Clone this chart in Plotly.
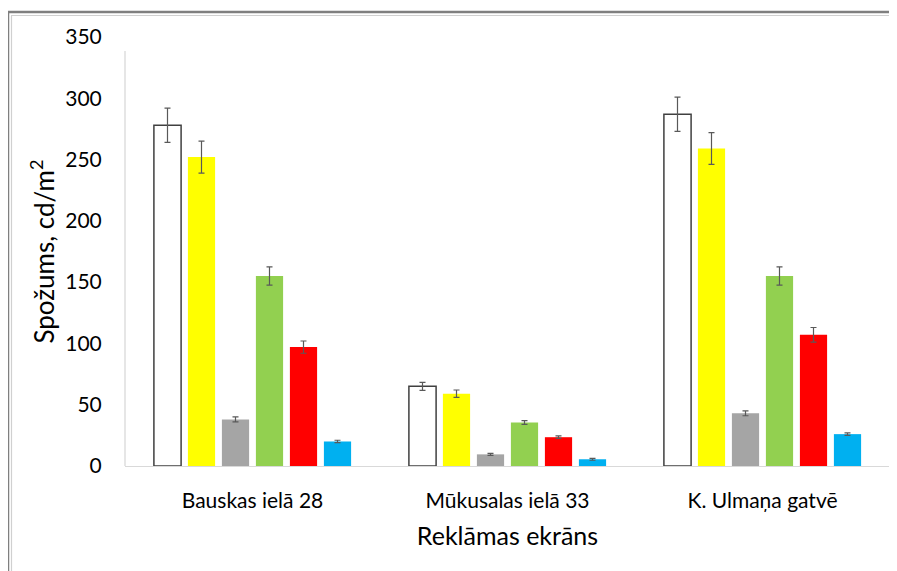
import plotly.graph_objects as go

categories = ["Bauskas ielā 28", "Mūkusalas ielā 33", "K. Ulmaņa gatvē"]
series_names = ["Balts", "Dzeltens", "Pelēks", "Zaļš", "Sarkans", "Zils"]
white_vals = [278, 65, 287]
white_err = [14, 3.3, 14]
yellow_vals = [252, 59, 259]
yellow_err = [13, 3, 13]
gray_vals = [38, 9.5, 43]
gray_err = [2, 0.8, 2]
green_vals = [155, 35.5, 155]
green_err = [7.5, 1.5, 7.5]
red_vals = [97, 23.5, 107]
red_err = [5, 1, 6]
blue_vals = [20, 5.5, 26]
blue_err = [1, 0.8, 1]
y_ticks = [0, 50, 100, 150, 200, 250, 300, 350]

values = [white_vals, yellow_vals, gray_vals, green_vals, red_vals, blue_vals]
errors = [white_err, yellow_err, gray_err, green_err, red_err, blue_err]
fills = ["#FFFFFF", "#FFFF00", "#A5A5A5", "#92D050", "#FF0000", "#00B0F0"]
outlines = ["#404040", None, None, None, None, None]

FONT = "Lato, 'Open Sans', sans-serif"

fig = go.Figure()
for name, v, e, fc, oc in zip(series_names, values, errors, fills, outlines):
    fig.add_trace(go.Bar(
        x=categories, y=v, name=name,
        marker=dict(color=fc,
                    line=dict(color=oc if oc else fc, width=1.5 if oc else 0)),
        error_y=dict(type="data", array=e, visible=True,
                     color="#595959", thickness=1.2, width=3),
    ))

OFF = 8  # page body margin
W, H = 897, 571
# desired page-pixel positions of plot area
PL, PR, PT, PB = 125, 890, 37, 466
L, T = PL - OFF, PT - OFF
R = W - (PR - OFF)
B = H - (PB - OFF)
pw, ph = W - L - R, H - T - B

def px(x):
    return (x - OFF - L) / pw

def py(y):
    return (H - B - (y - OFF)) / ph

shapes = [
    dict(type="line", xref="paper", yref="paper", x0=0, x1=0, y0=0, y1=py(51),
         line=dict(color="#D9D9D9", width=1.3)),
    dict(type="line", xref="paper", yref="paper", x0=px(8), x1=px(910), y0=py(12), y1=py(12),
         line=dict(color="#7F7F7F", width=2.5)),
    dict(type="line", xref="paper", yref="paper", x0=px(11), x1=px(910), y0=py(15.5), y1=py(15.5),
         line=dict(color="#D0D0D0", width=1.2)),
    dict(type="line", xref="paper", yref="paper", x0=px(8), x1=px(8), y0=py(12), y1=py(590),
         line=dict(color="#7F7F7F", width=2.5)),
    dict(type="line", xref="paper", yref="paper", x0=px(11.5), x1=px(11.5), y0=py(15.5), y1=py(590),
         line=dict(color="#D0D0D0", width=1.2)),
]

fig.update_layout(
    width=W, height=H,
    margin=dict(l=L, r=R, t=T, b=B, autoexpand=False),
    paper_bgcolor="white", plot_bgcolor="white",
    barmode="group", bargap=0.2, bargroupgap=0.2,
    showlegend=False,
    font=dict(family=FONT, color="#000000"),
    shapes=shapes,
    xaxis=dict(
        showgrid=False, showline=True, linecolor="#D9D9D9", linewidth=1.3,
        tickfont=dict(size=21, family=FONT, color="#000000"),
        ticks="outside", ticklen=16, tickcolor="rgba(0,0,0,0)",
        title=dict(text="Reklāmas ekrāns", font=dict(size=25, family=FONT, color="#000000"), standoff=16),
        zeroline=False, automargin=False,
    ),
    yaxis=dict(
        range=[0, 350], tickvals=y_ticks,
        showgrid=False, showline=False, zeroline=False,
        tickfont=dict(size=21, family=FONT, color="#000000"),
        ticks="outside", ticklen=18, tickcolor="rgba(0,0,0,0)",
        title=dict(text="Spožums, cd/m<sup>2</sup>", font=dict(size=26, family=FONT, color="#000000"), standoff=3),
        automargin=False,
    ),
)

fig.write_html("out.html")
